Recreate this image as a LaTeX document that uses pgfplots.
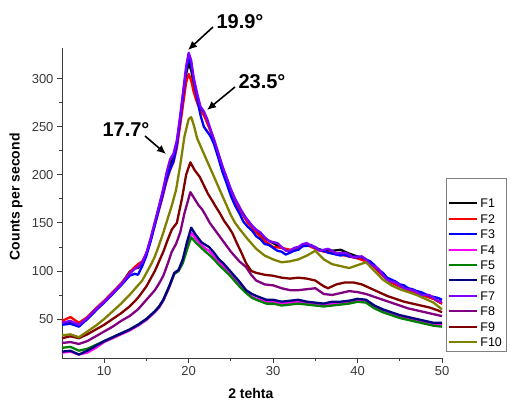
\documentclass[border=0pt]{standalone}
\usepackage{fontspec}
\setmainfont{Liberation Sans}
\setsansfont{Liberation Sans}
\usepackage{pgfplots}
\pgfplotsset{compat=1.18}
\usetikzlibrary{arrows.meta}

\definecolor{cF1}{HTML}{000000}
\definecolor{cF2}{HTML}{FF0000}
\definecolor{cF3}{HTML}{0000FF}
\definecolor{cF4}{HTML}{FF00FF}
\definecolor{cF5}{HTML}{008000}
\definecolor{cF6}{HTML}{000080}
\definecolor{cF7}{HTML}{8000FF}
\definecolor{cF8}{HTML}{800080}
\definecolor{cF9}{HTML}{800000}
\definecolor{cF10}{HTML}{808000}
\definecolor{axgray}{HTML}{3A3A3A}

\begin{document}
\begin{tikzpicture}[x=1pt,y=1pt]
\useasboundingbox (0,0) rectangle (511,403);
\begin{axis}[at={(62pt,45pt)}, anchor=south west,
  scale only axis, width=380pt, height=310pt,
  xmin=5, xmax=50, ymin=9.4, ymax=332,
  axis lines=left, axis line style={-, axgray, line width=0.9pt},
  xtick={10,20,30,40,50}, ytick={50,100,150,200,250,300},
  minor x tick num=1, minor y tick num=1,
  tick align=outside, major tick length=5pt, minor tick length=3pt,
  tick style={axgray, line width=0.8pt},
  tick label style={font=\fontsize{13}{15}\selectfont, text=axgray},
  /pgf/number format/assume math mode=true,
  xlabel={\textbf{2 tehta}}, ylabel={\textbf{Counts per second}},
  label style={font=\fontsize{14}{16}\selectfont},
  xlabel style={at={(axis description cs:0.497,-0.113)}, anchor=center},
  ylabel style={at={(axis description cs:-0.121,0.52)}, anchor=center},
  legend style={at={(axis description cs:1.0105,0.5806)}, anchor=north west,
    draw=gray, line width=0.8pt, font=\fontsize{12.5}{14}\selectfont,
    nodes={inner sep=2pt, text height=9pt, text depth=0pt},
    row sep=2.4pt, inner xsep=2pt, inner ysep=3pt},
  legend cell align=left,
  legend image code/.code={\draw[#1, line width=2pt] (0pt,0pt) -- (28pt,0pt);},
  every axis plot/.append style={line width=2.3pt, line join=round},
  clip=false]

\addlegendimage{empty legend}\addlegendentry{}

\addplot[cF1] coordinates {(5,46)(6,47)(7,44)(8,50)(9,59)(10,68)(11,77)(12,86)(13,99)(13.6,103)(14,103)(14.5,108)(15,118)(15.5,133)(16,150)(16.5,167)(17,184)(17.4,200)(17.8,212)(18.2,217)(18.6,232)(19,258)(19.4,286)(19.7,305)(20,316)(20.3,309)(20.6,294)(21,280)(21.4,268)(21.8,264)(22.2,256)(22.6,246)(23,236)(23.5,222)(24,208)(24.5,196)(25,184)(25.5,174)(26,166)(27,152)(28,142)(29,134)(30,129)(31,124)(32,121)(33,124)(34,128)(35,124)(36,121)(37,121)(38,122)(39,118)(40,115)(41,111)(42,104)(43,95)(44,88)(45,84)(46,80)(47,77)(48,74)(49,71)(50,66)};
\addlegendentry{F1}

\addplot[cF2] coordinates {(5,48)(6,52)(7,46)(8,52)(9,61)(10,69)(11,78)(12,87)(13,98)(13.6,104)(14,107)(14.5,110)(15,118)(15.5,132)(16,148)(16.5,164)(17,180)(17.4,194)(17.8,205)(18.2,213)(18.6,228)(19,252)(19.4,277)(19.7,296)(20,305)(20.3,298)(20.6,286)(21,275)(21.4,266)(21.8,262)(22.2,254)(22.6,245)(23,235)(23.5,220)(24,206)(24.5,194)(25,182)(25.5,172)(26,164)(27,150)(28,140)(29,131)(30,125)(31,124)(32,122)(33,124)(34,127)(35,123)(36,120)(37,119)(38,117)(39,115)(40,113)(41,110)(42,104)(43,95)(44,88)(45,84)(46,80)(47,77)(48,74)(49,71)(50,66)};
\addlegendentry{F2}

\addplot[cF3] coordinates {(5,44)(6,45)(7,42)(8,50)(9,59)(10,67)(11,76)(12,85)(13,95)(13.6,97)(14,96)(14.5,105)(15,116)(15.5,131)(16,148)(16.5,165)(17,182)(17.4,196)(17.8,206)(18.2,214)(18.6,232)(19,258)(19.4,287)(19.7,309)(20,322)(20.3,315)(20.6,298)(21,280)(21.4,262)(21.8,250)(22.2,245)(22.6,240)(23,232)(23.5,218)(24,203)(24.5,191)(25,178)(25.5,168)(26,160)(26.5,151)(27,146)(27.5,142)(28,136)(28.5,133)(29,128)(29.5,127)(30,124)(30.5,121)(31,120)(31.5,117)(32,119)(32.5,121)(33,122)(33.5,126)(34,126)(34.5,127)(35,124)(35.5,122)(36,121)(36.5,119)(37,118)(37.5,117)(38,116)(38.5,117)(39,115)(39.5,115)(40,114)(40.5,115)(41,112)(41.5,110)(42,106)(42.5,101)(43,98)(43.5,93)(44,91)(44.5,89)(45,86)(45.5,85)(46,82)(46.5,81)(47,79)(47.5,78)(48,76)(48.5,74)(49,73)(49.5,72)(50,70)};
\addlegendentry{F3}

\addplot[cF4] coordinates {(5,15)(6,16)(7,13)(8,15)(9,20)(10,26)(11,30)(12,34)(13,38)(14,43)(15,49)(16,57)(16.5,62)(17,69)(17.7,83)(18.3,97)(18.8,100)(19.3,110)(19.8,126)(20.3,140)(20.8,134)(21.5,127)(22,123)(22.4,121)(23,115)(23.5,110)(24.2,104)(24.8,98)(25.4,92)(26,86)(26.8,78)(27.5,73)(28,71)(29.2,68)(30,68)(31,66)(32,67)(33,68)(34,67)(35,66)(36,65)(37,66)(38,67)(39,68)(40,70)(41,69)(42,63)(43,59)(44,56)(45,53)(46,51)(47,49)(48,47)(49,45)(50,44)};
\addlegendentry{F4}

\addplot[cF5] coordinates {(5,20)(6,21)(7,17)(8,19)(9,23)(10,27)(11,31)(12,35)(13,39)(14,44)(15,50)(16,58)(16.5,63)(17,70)(17.7,84)(18.3,97)(18.8,100)(19.3,108)(19.8,122)(20.3,135)(20.8,130)(21.5,124)(22,120)(22.4,117)(23,112)(23.5,107)(24.2,101)(24.8,96)(25.4,90)(26,84)(26.8,77)(27.5,72)(28,70)(29.2,66)(30,66)(31,64)(32,65)(33,66)(34,65)(35,64)(36,63)(37,64)(38,65)(39,66)(40,68)(41,67)(42,61)(43,57)(44,54)(45,51)(46,49)(47,47)(48,45)(49,43)(50,42)};
\addlegendentry{F5}

\addplot[cF6] coordinates {(5,16)(6,17)(7,13)(8,17)(9,22)(10,27)(11,31)(12,35)(13,39)(14,44)(15,50)(16,58)(16.5,63)(17,70)(17.7,84)(18.3,98)(18.8,101)(19.3,112)(19.8,130)(20.3,145)(20.8,138)(21.5,130)(22,127)(22.4,125)(23,119)(23.5,113)(24.2,107)(24.8,101)(25.4,95)(26,89)(26.8,80)(27.5,76)(28,74)(29.2,70)(30,70)(31,68)(32,69)(33,70)(34,68)(35,67)(36,66)(37,68)(38,68)(39,69)(40,71)(41,70)(42,64)(43,60)(44,57)(45,54)(46,52)(47,50)(48,48)(49,46)(50,46)};
\addlegendentry{F6}

\addplot[cF7] coordinates {(5,46)(6,48)(7,44)(8,51)(9,60)(10,68)(11,77)(12,86)(13,97)(13.6,102)(14,104)(14.5,109)(15,119)(15.5,134)(16,151)(16.5,168)(17,186)(17.4,203)(17.8,216)(18.2,222)(18.6,236)(19,262)(19.4,291)(19.7,313)(20,327)(20.3,319)(20.6,301)(21,285)(21.4,271)(21.8,266)(22.2,258)(22.6,247)(23,237)(23.5,223)(24,209)(24.5,197)(25,185)(25.5,175)(26,167)(26.5,158)(27,153)(27.5,147)(28,143)(28.5,140)(29,135)(29.5,131)(30,130)(30.5,129)(31,125)(31.5,121)(32,121)(32.5,124)(33,125)(33.5,128)(34,129)(34.5,126)(35,125)(35.5,121)(36,122)(36.5,123)(37,121)(37.5,118)(38,119)(38.5,119)(39,117)(39.5,114)(40,115)(40.5,115)(41,112)(41.5,107)(42,105)(42.5,102)(43,96)(43.5,91)(44,89)(44.5,88)(45,85)(45.5,82)(46,81)(46.5,80)(47,78)(47.5,75)(48,75)(48.5,75)(49,72)(49.5,69)(50,68)};
\addlegendentry{F7}

\addplot[cF8] coordinates {(5,25)(6,26)(7,24)(8,27)(9,32)(10,37)(11,42)(12,48)(13,53)(14,60)(15,70)(16,80)(16.5,87)(17,95)(17.5,107)(18,120)(18.5,128)(19,140)(19.5,160)(20.2,182)(20.7,175)(21.2,168)(21.6,164)(22,158)(22.5,150)(23,144)(23.5,138)(24,132)(24.5,126)(25,120)(25.5,115)(26,110)(26.8,104)(27.4,96)(28,90)(29,86)(30,85)(31,82)(32,80)(33,80)(34,81)(35,82)(36,76)(37,75)(38,77)(39,79)(40,78)(41,76)(42,73)(43,70)(44,67)(45,64)(46,61)(47,59)(48,57)(49,55)(50,53)};
\addlegendentry{F8}

\addplot[cF9] coordinates {(5,30)(6,32)(7,30)(8,34)(9,39)(10,44)(11,50)(12,56)(13,63)(14,72)(15,84)(15.5,92)(16,100)(16.5,110)(17,120)(17.5,132)(18,143)(18.6,150)(19.2,175)(19.7,200)(20.2,213)(20.7,205)(21.3,198)(21.8,189)(22.3,180)(22.8,173)(23.2,167)(23.7,160)(24.2,152)(24.7,146)(25.2,139)(25.7,129)(26.3,118)(26.8,108)(27.4,100)(28,98)(28.5,97)(29,96)(30,95)(31,93)(32,92)(33,93)(34,92)(35,90)(36,84)(36.5,82)(37.5,86)(38.5,88)(39.5,88)(40.5,86)(41.5,82)(42.5,78)(43.5,74)(44.5,71)(45.5,68)(46.5,66)(47.5,64)(48.5,62)(49.5,59)(50,57)};
\addlegendentry{F9}

\addplot[cF10] coordinates {(5,33)(6,34)(7,31)(8,37)(9,43)(10,50)(11,58)(12,66)(13,75)(14,85)(14.5,90)(15,98)(15.5,106)(16,115)(16.5,127)(17,140)(17.5,154)(18,168)(18.5,184)(19,210)(19.5,240)(20,258)(20.3,260)(20.6,252)(21,238)(21.5,228)(22,218)(22.5,208)(23,198)(23.5,188)(24,178)(24.5,168)(25,158)(25.5,150)(26,144)(27,133)(28,123)(29,116)(30,112)(31,109)(32,110)(33,112)(34,116)(35,121)(36,112)(37,107)(38,105)(39,103)(40,106)(41,109)(42,100)(43,91)(44,85)(45,81)(46,78)(47,75)(48,71)(49,67)(50,60)};
\addlegendentry{F10}

\end{axis}

\begin{scope}[line width=1.6pt, -{Latex[length=9pt,width=8pt]}]
  \draw (213,376) -- (188,353);
  \draw (235,316) -- (207,293);
  \draw (145,267) -- (166,249);
\end{scope}
\node[font=\fontsize{20}{22}\selectfont\bfseries] at (240,381) {19.9°};
\node[font=\fontsize{20}{22}\selectfont\bfseries] at (262,321) {23.5°};
\node[font=\fontsize{20}{22}\selectfont\bfseries] at (126,273) {17.7°};
\end{tikzpicture}
\end{document}
